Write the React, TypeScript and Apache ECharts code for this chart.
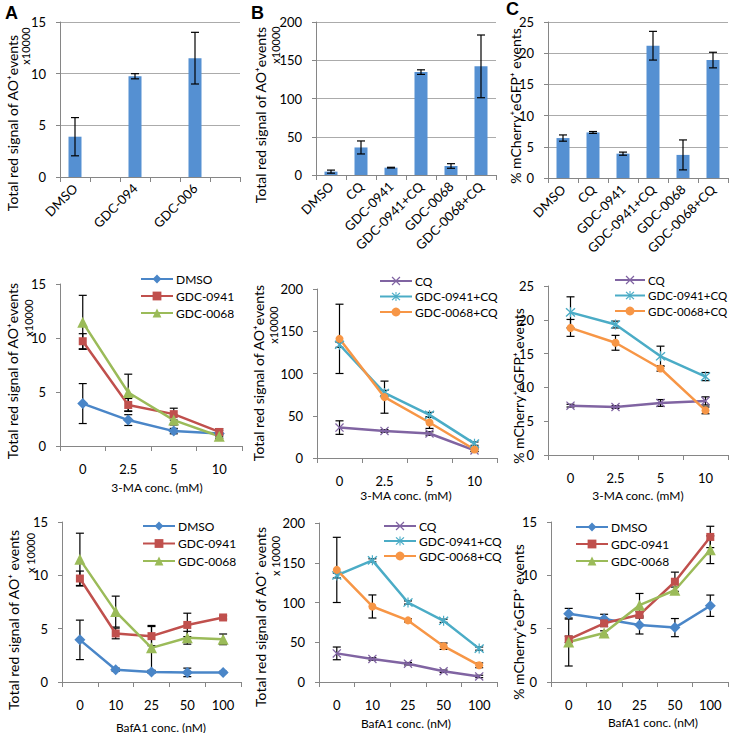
import React, { useEffect, useRef } from "react";
import * as echarts from "echarts";

const FONT = "Lato, 'Open Sans', sans-serif";

// ---------- Row 1: bar charts ----------
const catsA = ["DMSO", "", "GDC-094", "", "GDC-006", ""];
const valsA = [3.9, null, 9.75, null, 11.5, null];
const errA = [1.85, null, 0.25, null, 2.5, null];

const catsBC = ["DMSO", "CQ", "GDC-0941", "GDC-0941+CQ", "GDC-0068", "GDC-0068+CQ"];
const valsB = [4.4, 36, 9.6, 134.5, 11.8, 142];
const errB = [2, 8.5, 0.5, 3, 3, 41];
const valsC = [6.4, 7.3, 3.9, 21.2, 3.7, 18.9];
const errC = [0.5, 0.15, 0.25, 2.3, 2.4, 1.25];

// ---------- Row 2: 3-MA ----------
const maCats = ["0", "2.5", "5", "10"];
const dDMSO = [3.93, 2.4, 1.38, 1.15];
const dDMSOErr = [1.85, 0.5, 0.25, 0.3];
const dG41 = [9.7, 3.8, 2.95, 1.3];
const dG41Err = [0.7, 0.6, 0.55, 0.3];
const dG68 = [11.45, 4.95, 2.4, 0.9];
const dG68Err = [2.5, 1.7, 0.45, 0.2];

const eCQ = [36, 32, 29, 9];
const eCQErr = [8, 1.5, 2, 1.5];
const eG41 = [134, 77, 51, 17];
const eG41Err = [3, 3, 3, 2];
const eG68 = [141, 72, 42, 10];
const eG68Err = [41, 19, 7, 2];

const fCQ = [7.3, 7.1, 7.7, 8.0];
const fCQErr = [0.2, 0.2, 0.5, 0.6];
const fG41 = [21.1, 19.3, 14.6, 11.6];
const fG41Err = [2.3, 0.5, 1.5, 0.6];
const fG68 = [18.8, 16.6, 12.8, 6.6];
const fG68Err = [1.25, 1.1, 0.4, 0.5];

// ---------- Row 3: BafA1 ----------
const bafCats = ["0", "10", "25", "50", "100"];
const gDMSO = [3.95, 1.15, 0.93, 0.9, 0.9];
const gDMSOErr = [1.85, 0.15, 0.1, 0.4, 0.1];
const gG41 = [9.7, 4.55, 4.3, 5.35, 6.05];
const gG41Err = [0.7, 0.5, 0.9, 1.1, 0.15];
const gG68 = [11.5, 6.6, 3.2, 4.15, 4.0];
const gG68Err = [2.45, 1.45, 2.1, 0.6, 0.5];

const hCQ = [36, 29, 23, 13.5, 7];
const hCQErr = [8, 1.5, 1.5, 1.5, 1.5];
const hG41 = [134, 153, 100, 77, 42];
const hG41Err = [3, 2, 2, 2, 2];
const hG68 = [141, 95, 77.5, 45, 21];
const hG68Err = [41, 14.5, 2, 4, 3];

const iDMSO = [6.4, 5.9, 5.35, 5.1, 7.15];
const iDMSOErr = [0.5, 0.45, 0.85, 0.85, 1.0];
const iG41 = [4.0, 5.5, 6.3, 9.4, 13.6];
const iG41Err = [0.3, 0.3, 0.3, 0.9, 1.0];
const iG68 = [3.75, 4.6, 7.2, 8.6, 12.4];
const iG68Err = [2.25, 0.2, 1.1, 0.3, 1.3];

const X_PATH = "path://M1,0 L5,4 L9,0 L10,1 L6,5 L10,9 L9,10 L5,6 L1,10 L0,9 L4,5 L0,1 Z";
const STAR_PATH =
  "path://M1,0 L5,4 L9,0 L10,1 L6,5 L10,9 L9,10 L5,6 L1,10 L0,9 L4,5 L0,1 Z M4.4,-0.5 L5.6,-0.5 L5.6,10.5 L4.4,10.5 Z";

const STYLE: Record<string, { color: string; symbol: string; size: number }> = {
  DMSO: { color: "#4A86C8", symbol: "diamond", size: 11 },
  "GDC-0941": { color: "#C0504D", symbol: "rect", size: 8 },
  "GDC-0068": { color: "#9BBB59", symbol: "triangle", size: 11 },
  CQ: { color: "#8064A2", symbol: X_PATH, size: 9 },
  "GDC-0941+CQ": { color: "#4BACC6", symbol: STAR_PATH, size: 10 },
  "GDC-0068+CQ": { color: "#F79646", symbol: "circle", size: 8 },
};

const BAR_COLOR = "#5590D2";
const AXIS_COLOR = "#868686";

const grids = [
  { left: 60, top: 22, width: 180, height: 155 },
  { left: 316, top: 22, width: 180, height: 153 },
  { left: 548, top: 22, width: 180, height: 156 },
  { left: 60, top: 284, width: 182, height: 162 },
  { left: 317, top: 289, width: 180, height: 169 },
  { left: 548, top: 286, width: 180, height: 169 },
  { left: 62, top: 522, width: 179, height: 160 },
  { left: 319, top: 523, width: 178, height: 159 },
  { left: 551, top: 522, width: 177, height: 160 },
];

const panelCats = [catsA, catsBC, catsBC, maCats, maCats, maCats, bafCats, bafCats, bafCats];
const panelMax = [15, 200, 25, 15, 200, 25, 15, 200, 15];
const panelInt = [5, 50, 5, 5, 50, 5, 5, 50, 5];

const errRender = (params: any, api: any) => {
  const x = api.value(0);
  const lo = api.coord([x, api.value(1)]);
  const hi = api.coord([x, api.value(2)]);
  const w = 4;
  const style = { stroke: "#000", lineWidth: 1.2 };
  return {
    type: "group",
    children: [
      { type: "line", shape: { x1: lo[0], y1: lo[1], x2: hi[0], y2: hi[1] }, style },
      { type: "line", shape: { x1: hi[0] - w, y1: hi[1], x2: hi[0] + w, y2: hi[1] }, style },
      { type: "line", shape: { x1: lo[0] - w, y1: lo[1], x2: lo[0] + w, y2: lo[1] }, style },
    ],
  };
};

const errData = (vals: (number | null)[], errs: (number | null)[]) =>
  vals
    .map((v, i) => (v == null || errs[i] == null ? null : [i, v - (errs[i] as number), v + (errs[i] as number)]))
    .filter((d) => d !== null);

function errSeries(idx: number, vals: (number | null)[], errs: (number | null)[], z: number) {
  return {
    type: "custom",
    name: "err",
    xAxisIndex: idx,
    yAxisIndex: idx,
    renderItem: errRender,
    data: errData(vals, errs),
    encode: { x: 0, y: [1, 2] },
    z,
    silent: true,
    clip: false,
  };
}

function barSeries(idx: number, vals: (number | null)[], errs: (number | null)[]) {
  return [
    {
      type: "bar",
      name: "bar" + idx,
      xAxisIndex: idx,
      yAxisIndex: idx,
      data: vals.map((v) => (v == null ? "-" : v)),
      barWidth: 13,
      itemStyle: { color: BAR_COLOR },
      z: 2,
    },
    errSeries(idx, vals, errs, 3),
  ];
}

function lineSeries(idx: number, name: string, vals: number[], errs: number[]) {
  const s = STYLE[name];
  return [
    errSeries(idx, vals, errs, 1),
    {
      type: "line",
      name,
      xAxisIndex: idx,
      yAxisIndex: idx,
      data: vals,
      symbol: s.symbol,
      symbolSize: s.size,
      showAllSymbol: true,
      lineStyle: { color: s.color, width: 2.5 },
      itemStyle: { color: s.color },
      z: 2,
    },
  ];
}

function legend(left: number, top: number, names: string[], gap: number, fs = 12, iw = 32) {
  return {
    left,
    top,
    orient: "vertical",
    padding: 0,
    itemWidth: iw,
    itemHeight: 11,
    itemGap: gap,
    selectedMode: false,
    data: names,
    textStyle: { fontSize: fs, fontFamily: FONT, color: "#000", lineHeight: 14, padding: [0, 0, 0, -2] },
  };
}

function vText(text: string, x: number, y: number, size: number) {
  return {
    type: "text",
    x,
    y,
    rotation: Math.PI / 2,
    style: { text, fontSize: size, fontFamily: FONT, fill: "#000", align: "center", verticalAlign: "middle" },
  };
}

function hText(text: string, x: number, y: number, size: number, bold = false, family = FONT) {
  return {
    type: "text",
    x,
    y,
    style: {
      text,
      fontSize: size,
      fontFamily: family,
      fontWeight: bold ? "bold" : "normal",
      fill: "#000",
      align: bold ? "left" : "center",
      verticalAlign: bold ? "top" : "middle",
    },
  };
}

const AO = "Total red signal of AO\u207Aevents";
const AO2 = "Total red signal of AO\u207A events";
const MCH = "% mCherry\u207AeGFP\u207A events";

export default function App() {
  const ref = useRef<HTMLDivElement>(null);
  useEffect(() => {
    if (!ref.current) return;
    const chart = echarts.init(ref.current, null, { renderer: "svg" });
    const isBar = (i: number) => i < 3;

    const xAxis = grids.map((_, i) => ({
      type: "category",
      gridIndex: i,
      data: panelCats[i],
      boundaryGap: true,
      axisLine: { show: true, lineStyle: { color: AXIS_COLOR, width: 1 } },
      axisTick: { show: true, length: 5, interval: 0, lineStyle: { color: AXIS_COLOR } },
      axisLabel: isBar(i)
        ? { rotate: 45, interval: 0, margin: 9, fontSize: 13, fontFamily: FONT, color: "#000" }
        : { interval: 0, margin: 16, fontSize: 13, fontFamily: FONT, color: "#000" },
    }));
    const yAxis = grids.map((_, i) => ({
      type: "value",
      gridIndex: i,
      min: 0,
      max: panelMax[i],
      interval: panelInt[i],
      axisLine: { show: true, lineStyle: { color: AXIS_COLOR, width: 1 } },
      axisTick: { show: true, length: 4, lineStyle: { color: AXIS_COLOR } },
      axisLabel: { margin: 14, fontSize: 13, fontFamily: FONT, color: "#000" },
      splitLine: { show: isBar(i), lineStyle: { color: "#ABABAB", width: 1 } },
    }));

    const series: any[] = [
      ...barSeries(0, valsA, errA),
      ...barSeries(1, valsB, errB),
      ...barSeries(2, valsC, errC),
      ...lineSeries(3, "DMSO", dDMSO, dDMSOErr),
      ...lineSeries(3, "GDC-0941", dG41, dG41Err),
      ...lineSeries(3, "GDC-0068", dG68, dG68Err),
      ...lineSeries(4, "CQ", eCQ, eCQErr),
      ...lineSeries(4, "GDC-0941+CQ", eG41, eG41Err),
      ...lineSeries(4, "GDC-0068+CQ", eG68, eG68Err),
      ...lineSeries(5, "CQ", fCQ, fCQErr),
      ...lineSeries(5, "GDC-0941+CQ", fG41, fG41Err),
      ...lineSeries(5, "GDC-0068+CQ", fG68, fG68Err),
      ...lineSeries(6, "DMSO", gDMSO, gDMSOErr),
      ...lineSeries(6, "GDC-0941", gG41, gG41Err),
      ...lineSeries(6, "GDC-0068", gG68, gG68Err),
      ...lineSeries(7, "CQ", hCQ, hCQErr),
      ...lineSeries(7, "GDC-0941+CQ", hG41, hG41Err),
      ...lineSeries(7, "GDC-0068+CQ", hG68, hG68Err),
      ...lineSeries(8, "DMSO", iDMSO, iDMSOErr),
      ...lineSeries(8, "GDC-0941", iG41, iG41Err),
      ...lineSeries(8, "GDC-0068", iG68, iG68Err),
    ];

    const grpA = ["DMSO", "GDC-0941", "GDC-0068"];
    const grpB = ["CQ", "GDC-0941+CQ", "GDC-0068+CQ"];

    const option: any = {
      animation: false,
      backgroundColor: "#fff",
      textStyle: { fontFamily: FONT },
      grid: grids,
      xAxis,
      yAxis,
      series,
      legend: [
        legend(140, 272, grpA, 3),
        legend(379, 274, grpB, 1.5),
        legend(614, 273, grpB, 1.5, 11.5, 30),
        legend(142, 519, grpA, 3.5),
        legend(383, 519, grpB, 1),
        legend(575, 520, grpA, 3),
      ],
      graphic: [
        hText("A", 5, 4, 18, true, "'Liberation Sans', Arial, sans-serif"),
        hText("B", 251, 4, 18, true, "'Liberation Sans', Arial, sans-serif"),
        hText("C", 506, 0, 18, true, "'Liberation Sans', Arial, sans-serif"),
        vText(AO, 12, 123, 14),
        vText("x10000", 25, 46, 11),
        vText(AO, 260, 115, 14),
        vText("x10000", 275, 45, 11),
        vText(MCH, 515, 106, 14),
        vText(AO, 12, 371, 14),
        vText("x10000", 28, 318, 11),
        vText(AO, 258, 373, 14),
        vText("x10000", 273, 325, 11),
        vText(MCH, 518, 386, 14),
        vText(AO2, 13, 620, 14),
        vText("x 10000", 30, 553, 11),
        vText(AO2, 260, 617, 14),
        vText("x 10000", 275, 556, 11),
        vText(MCH, 518, 622, 14),
        hText("3-MA conc. (mM)", 157, 487, 12),
        hText("3-MA conc. (mM)", 406, 495, 12),
        hText("3-MA conc. (mM)", 638, 495, 12),
        hText("BafA1 conc. (nM)", 161, 727, 12),
        hText("BafA1 conc. (nM)", 406, 723, 12),
        hText("BafA1 conc. (nM)", 653, 722, 12),
      ],
    };
    chart.setOption(option);
    return () => chart.dispose();
  }, []);

  return (
    <div
      ref={ref}
      style={{ position: "fixed", left: 0, top: 0, width: 733, height: 733, background: "#fff" }}
    />
  );
}
